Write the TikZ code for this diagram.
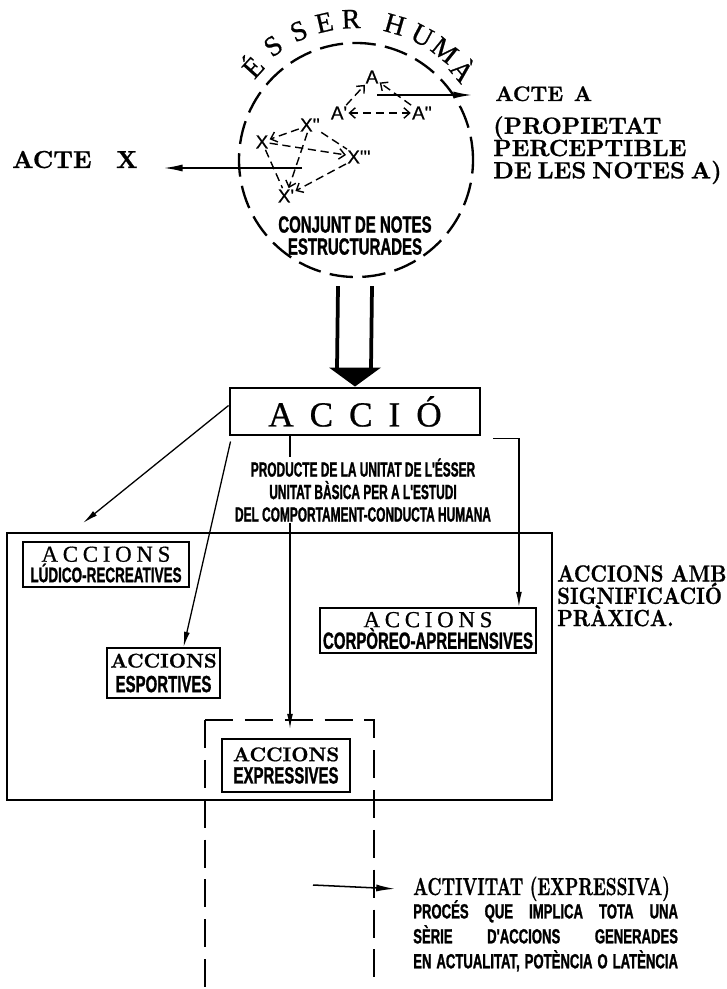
\documentclass[tikz,border=0pt]{standalone}
\usepackage{fontspec}
\newfontfamily\narrowsans[FakeStretch=0.64,FakeBold=1.2]{Liberation Sans Bold}
\newfontfamily\narrowersans[FakeStretch=0.58,FakeBold=1.2]{Liberation Sans Bold}
\newfontfamily\clarendon[FakeBold=0.8]{lmroman10-bold.otf}
\newfontfamily\slabfont[FakeStretch=0.85,FakeBold=0.8]{lmroman10-bold.otf}
\newfontfamily\slabnarrow[FakeStretch=0.69,FakeBold=0.8]{lmroman10-bold.otf}
\newfontfamily\widserif[FakeBold=0.7]{Liberation Serif}
\newfontfamily\plainsans[FakeBold=0.6]{Liberation Sans}
\usetikzlibrary{arrows.meta,positioning,calc}
\lineskiplimit=-100pt
\newcommand{\spreadto}[2]{\makebox[#1][s]{#2}}
\newcommand{\tightspace}{\spaceskip=0.25em\relax}

\begin{document}
\begin{tikzpicture}[x=0.3mm,y=0.3mm,
    box/.style={draw,line width=1.6pt,align=center,inner sep=0pt},
    note label/.style={font=\plainsans\fontsize{16pt}{16pt}\selectfont,inner sep=1pt},
    note line/.style={dash pattern=on 7pt off 4pt,line width=1.2pt},
    note tip/.style={-{Straight Barb[length=5pt,width=9pt]}},
    big arrow/.style={-{Latex[length=16pt,width=6pt]},line width=1.3pt},
    mid arrow/.style={-{Latex[length=13pt,width=5pt]},line width=1.1pt}]
  \useasboundingbox (0,0) rectangle (726,-989);

  % esser huma
  \node[draw,circle,dash pattern=on 20pt off 8pt,line width=2pt,minimum size=70.2mm,inner sep=0pt] (human) at (356,-160) {};
  \begin{scope}[shift={(human.center)}]
    \foreach \ch/\ang in {É/138,S/126,S/114,E/103,R/92,H/74,U/62,M/51,À/40}
      \node[font=\widserif\fontsize{24pt}{24pt}\selectfont,inner sep=0pt,rotate=\ang-90] (letter-\ang) at (\ang:141) {\ch};
  \end{scope}

  % notes A
  \node[note label] (a0) at (372,-77) {A};
  \node[note label] (a1) at (339,-113) {A'};
  \node[note label] (a2) at (422,-113) {A''};
  \draw[note line,note tip] (a1) -- (a0);
  \draw[note line,note tip] (a2) -- (a0);
  \draw[note line,{Straight Barb[length=5pt,width=9pt]}-{Straight Barb[length=5pt,width=9pt]}] (a1) -- (a2);

  % notes X
  \node[note label] (x1) at (262,-142) {X};
  \node[note label] (x2) at (310,-125) {X''};
  \node[note label] (x3) at (359,-157) {X'''};
  \node[note label] (x4) at (286,-196) {X'};
  \draw[note line,note tip] (x2) -- (x1);
  \draw[note line,note tip] (x1) -- (x3);
  \draw[note line] (x2) -- (x3);
  \draw[note line,note tip] (x2) -- (x4);
  \draw[note line,note tip] (x3) -- (x4);
  \draw[note line] (x1) -- (x4);

  \node[font=\narrowsans\fontsize{20pt}{18.8pt}\selectfont,align=center,anchor=north,inner sep=0pt] (notes) at (355,-216) {CONJUNT DE NOTES\\ESTRUCTURADES};

  % actes
  \coordinate (xout) at (302,-168);
  \node[font=\clarendon\fontsize{21pt}{21pt}\selectfont,anchor=base west,inner sep=0pt] (actx) at (12,-168) {ACTE\quad X};
  \draw[big arrow] (xout) -- ($(actx.base east)+(26,0)$);
  \coordinate (aout) at (377,-95);
  \node[font=\clarendon\fontsize{18pt}{18pt}\selectfont,anchor=base west,inner sep=0pt] (acta) at (495,-101) {ACTE\enspace A};
  \draw[big arrow] (aout) -- ($(acta.base west)+(-23,6)$);
  \node[font=\clarendon\fontsize{20pt}{19pt}\selectfont\tightspace,align=left,anchor=north west,inner sep=0pt] (propi) at (493,-116) {(PROPIETAT\\PERCEPTIBLE\\DE LES NOTES A)};

  % accio
  \node[box,line width=2.5pt,minimum width=75mm,minimum height=14.1mm,font=\widserif\fontsize{30pt}{30pt}\selectfont] (accio) at (355,-411.5) {\spreadto{148pt}{A\hfil C\hfil C\hfil I\hfil Ó}};
  \draw[line width=3.2pt] ($(human.south)+(-18,-8)$) -- ($(accio.north)+(-18,18)$);
  \draw[line width=3.2pt] ($(human.south)+(16,-8)$) -- ($(accio.north)+(16,18)$);
  \fill ($(accio.north)+(-26,19)$) -- (accio.north) -- ($(accio.north)+(26,19)$) -- cycle;

  % accions
  \draw[line width=1.6pt] (7,-533) rectangle (552,-800);
  \node[box,minimum width=49.8mm,minimum height=13.5mm,font=\fontsize{18pt}{17.5pt}\selectfont] (ludic) at (106,-564.5)
    {{\widserif\fontsize{19.5pt}{17.5pt}\selectfont\spreadto{110pt}{A\hfil C\hfil C\hfil I\hfil O\hfil N\hfil S}}\\{\narrowsans LÚDICO-RECREATIVES}};
  \node[box,minimum width=33.9mm,minimum height=15mm,font=\fontsize{20pt}{21pt}\selectfont] (esport) at (163.5,-673)
    {{\clarendon\fontsize{17pt}{21pt}\selectfont ACCIONS}\\{\narrowsans ESPORTIVES}};
  \node[box,minimum width=64.8mm,minimum height=13.5mm,font=\fontsize{20pt}{18.5pt}\selectfont] (corp) at (428,-630.5)
    {{\widserif\fontsize{19.5pt}{18.5pt}\selectfont\spreadto{110pt}{A\hfil C\hfil C\hfil I\hfil O\hfil N\hfil S}}\\{\narrowsans CORPÒREO-APREHENSIVES}};
  \node[box,minimum width=38.4mm,minimum height=15.9mm,font=\fontsize{20pt}{19pt}\selectfont] (expr) at (286,-765.5)
    {{\clarendon\fontsize{17pt}{19pt}\selectfont ACCIONS}\\{\narrowsans EXPRESSIVES}};
  \draw[line width=2pt,dash pattern=on 24pt off 10pt] (205,-720) -- (205,-989);
  \draw[line width=2pt,dash pattern=on 24pt off 10pt] (205,-720) -- (374,-720) -- (374,-989);

  \draw[mid arrow] ($(accio.south)+(-65,0)$) -- ($(expr.north)+(4,9)$);
  \node[font=\narrowersans\fontsize{17.5pt}{19.2pt}\selectfont,align=center,anchor=north,fill=white,inner sep=1pt] (producte) at (363,-457)
    {PRODUCTE DE LA UNITAT DE L'ÉSSER\\UNITAT BÀSICA PER A L'ESTUDI\\DEL COMPORTAMENT-CONDUCTA HUMANA};
  \coordinate (ludictip) at (83,-523);
  \draw[mid arrow] ($(accio.west)+(0,6)$) -- (ludictip);
  \draw[mid arrow] ($(accio.south west)+(2,-5)$) -- ($(esport.north)+(20,0)$);
  \draw[mid arrow] ($(accio.south east)+(12,-2)$) -| ($(corp.north east)+(-18,0)$);

  \node[font=\slabfont\fontsize{20pt}{19pt}\selectfont,align=left,anchor=north west,inner sep=0pt] (praxis) at (557,-565) {ACCIONS AMB\\SIGNIFICACIÓ\\PRÀXICA.};

  % activitat
  \coordinate (actout) at (313,-885);
  \node[font=\slabnarrow\fontsize{21pt}{21pt}\selectfont,anchor=base west,inner sep=0pt] (activ) at (413,-895) {ACTIVITAT (EXPRESSIVA)};
  \draw[big arrow] (actout) -- ($(activ.west)+(-18,0)$);
  \node[font=\narrowsans\fontsize{17.5pt}{21.3pt}\selectfont,align=left,anchor=north west,inner sep=0pt] (proces) at (413,-900)
    {\spreadto{226pt}{PROCÉS QUE IMPLICA TOTA UNA}\\\spreadto{226pt}{SÈRIE D'ACCIONS GENERADES}\\\spreadto{226pt}{EN ACTUALITAT, POTÈNCIA O LATÈNCIA}};
\end{tikzpicture}
\end{document}
